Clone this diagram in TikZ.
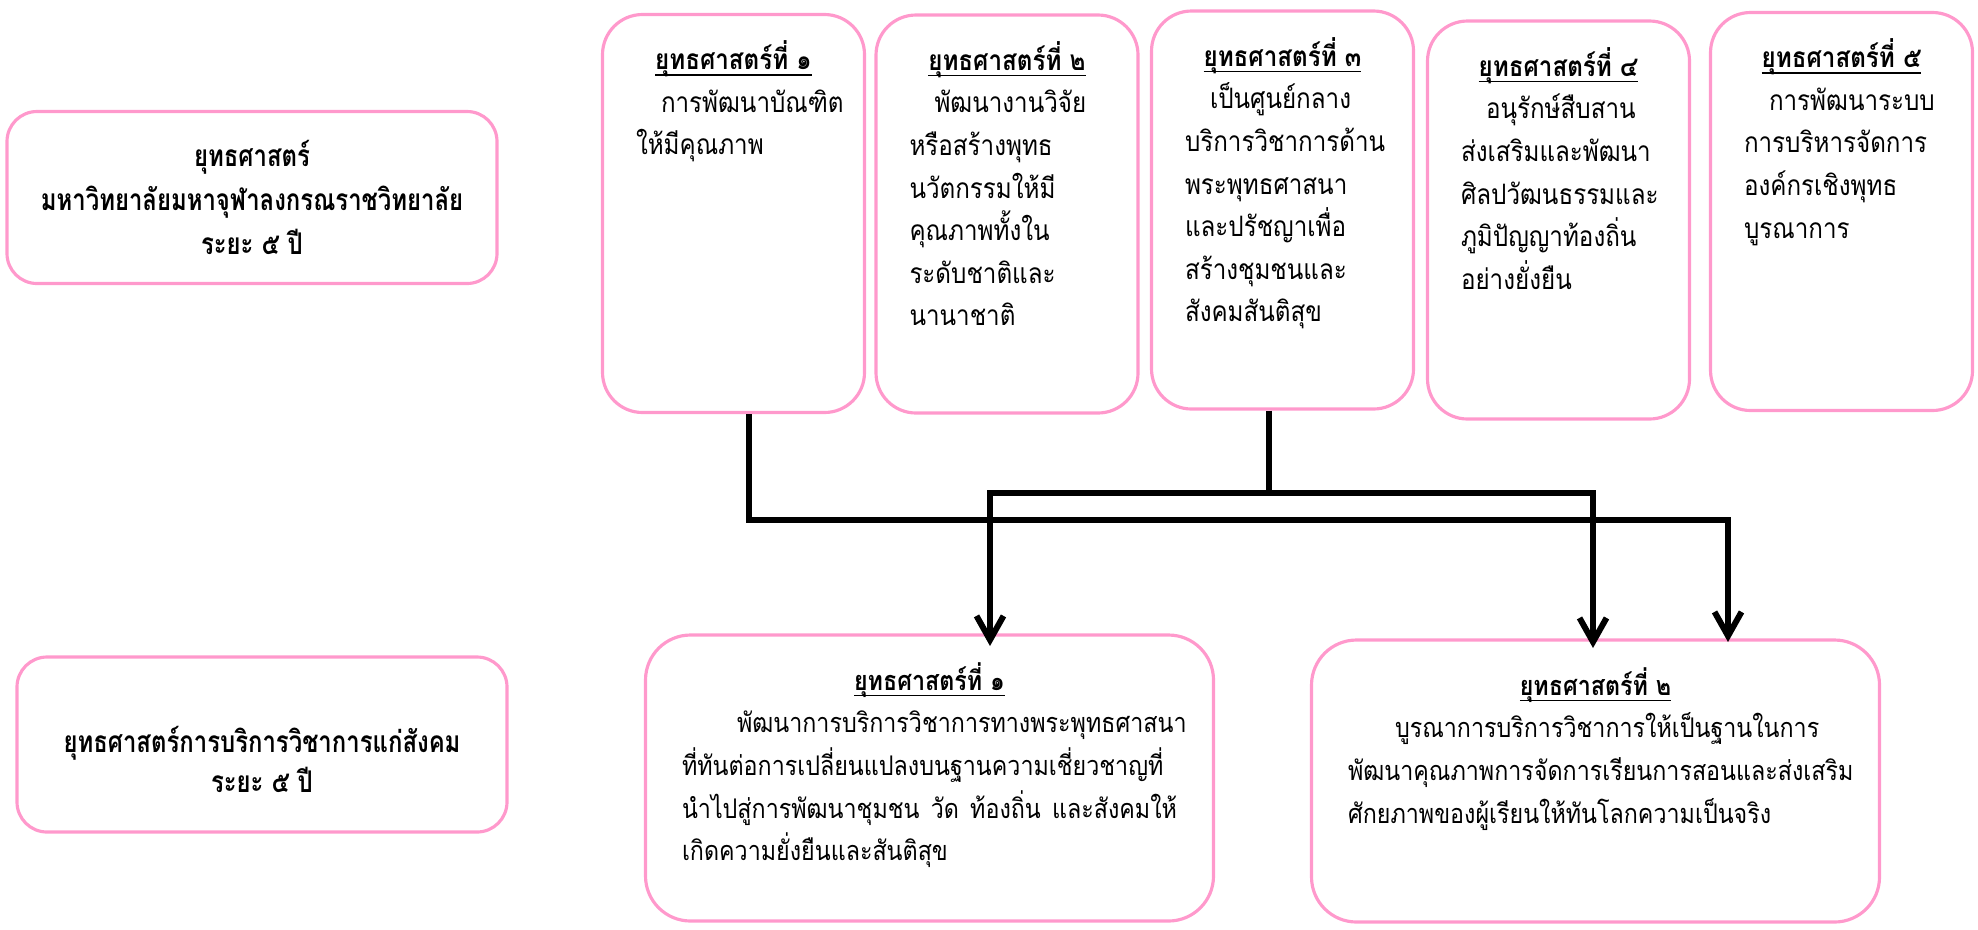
\documentclass[tikz,border=0pt]{standalone}
\usepackage{fontspec}
\setmainfont{Loma}[Script=Thai]
\newfontfamily\thaibody[Script=Thai,FakeStretch=0.86]{Loma}
\newfontfamily\thaihead[Script=Thai,FakeStretch=0.8]{Loma}
\usepackage{tikz}
\usetikzlibrary{arrows.meta}
\usetikzlibrary{positioning}
\definecolor{boxpink}{HTML}{FF99CC}
\tikzset{
    headbox/.style={draw=boxpink, line width=0.9pt, rounded corners=0.3cm,
        minimum width=4.9cm, minimum height=1.72cm, inner sep=0pt, align=center,
        font=\thaihead\bfseries\fontsize{8.5}{12.6}\selectfont},
    headtext/.style={inner sep=0pt, align=center,
        font=\thaihead\bfseries\fontsize{8.5}{11.3}\selectfont},
    stratbox/.style={draw=boxpink, line width=0.9pt, rounded corners=0.4cm,
        minimum width=2.62cm, minimum height=3.98cm, inner sep=0pt},
    goalbox/.style={draw=boxpink, line width=0.9pt, rounded corners=0.45cm,
        minimum width=5.68cm, minimum height=2.86cm, inner sep=0pt},
    boxtext/.style={anchor=base, inner sep=0pt, yshift=-0.57cm,
        font=\thaibody\fontsize{8}{12.1}\selectfont},
    trunk/.style={draw=black, line width=1.8pt},
    branch/.style={draw=black, line width=1.7pt,
        -{Straight Barb[length=2.4mm,width=2.7mm]}},
}
\newcommand{\stitle}[1]{{\bfseries\underline{\smash{#1}}}\par}
\begin{document}
\begin{tikzpicture}
\useasboundingbox (0,0) rectangle (19.78,-9.29);
% left heading boxes
\node[headbox] (plan) at (2.52,-1.975) {ยุทธศาสตร์\\มหาวิทยาลัยมหาจุฬาลงกรณราชวิทยาลัย\\ระยะ ๕ ปี};
\node[headbox, minimum height=1.75cm] (service) at (2.62,-7.445) {};
\node[headtext, yshift=-0.15cm] (servicetext) at (service) {ยุทธศาสตร์การบริการวิชาการแก่สังคม\\ระยะ ๕ ปี};
%
% university strategies
\node[stratbox] (s1) at (7.335,-2.135) {};
\node[stratbox] (s2) at (10.07,-2.14) {};
\node[stratbox] (s3) at (12.825,-2.10) {};
\node[stratbox] (s4) at (15.585,-2.20) {};
\node[stratbox] (s5) at (18.415,-2.115) {};
\node[boxtext] (t1) at (s1.north) {\parbox[t]{1.95cm}{\centering\stitle{ยุทธศาสตร์ที่ ๑}\raggedright
    \hspace*{0.25cm}การพัฒนาบัณฑิต\\ให้มีคุณภาพ}};
\node[boxtext] (t2) at (s2.north) {\parbox[t]{1.95cm}{\centering\stitle{ยุทธศาสตร์ที่ ๒}\raggedright
    \hspace*{0.25cm}พัฒนางานวิจัย\\หรือสร้างพุทธ\\นวัตกรรมให้มี\\คุณภาพทั้งใน\\ระดับชาติและ\\นานาชาติ}};
\node[boxtext] (t3) at (s3.north) {\parbox[t]{1.95cm}{\centering\stitle{ยุทธศาสตร์ที่ ๓}\raggedright
    \hspace*{0.25cm}เป็นศูนย์กลาง\\บริการวิชาการด้าน\\พระพุทธศาสนา\\และปรัชญาเพื่อ\\สร้างชุมชนและ\\สังคมสันติสุข}};
\node[boxtext] (t4) at (s4.north) {\parbox[t]{1.95cm}{\centering\stitle{ยุทธศาสตร์ที่ ๔}\raggedright
    \hspace*{0.25cm}อนุรักษ์สืบสาน\\ส่งเสริมและพัฒนา\\ศิลปวัฒนธรรมและ\\ภูมิปัญญาท้องถิ่น\\อย่างยั่งยืน}};
\node[boxtext] (t5) at (s5.north) {\parbox[t]{1.95cm}{\centering\stitle{ยุทธศาสตร์ที่ ๕}\raggedright
    \hspace*{0.25cm}การพัฒนาระบบ\\การบริหารจัดการ\\องค์กรเชิงพุทธ\\บูรณาการ}};
%
% academic service strategies
\node[goalbox] (g1) at (9.295,-7.78) {};
\node[goalbox, minimum height=2.82cm] (g2) at (15.955,-7.81) {};
\node[boxtext, font=\thaibody\fontsize{7.7}{12.1}\selectfont] (u1) at (g1.north) {\parbox[t]{4.95cm}{\centering\stitle{ยุทธศาสตร์ที่ ๑}\raggedright
    \hspace*{0.55cm}พัฒนาการบริการวิชาการทางพระพุทธศาสนา\\ที่ทันต่อการเปลี่ยนแปลงบนฐานความเชี่ยวชาญที่\\\makebox[\linewidth][s]{นำไปสู่การพัฒนาชุมชน วัด ท้องถิ่น และสังคมให้}\\เกิดความยั่งยืนและสันติสุข}};
\node[boxtext, font=\thaibody\fontsize{7.7}{12.1}\selectfont] (u2) at (g2.north) {\parbox[t]{4.95cm}{\centering\stitle{ยุทธศาสตร์ที่ ๒}\raggedright
    \hspace*{0.47cm}บูรณาการบริการวิชาการให้เป็นฐานในการ\\พัฒนาคุณภาพการจัดการเรียนการสอนและส่งเสริม\\ศักยภาพของผู้เรียนให้ทันโลกความเป็นจริง}};
%
% links
\coordinate (c1) at (7.49,-5.20);
\coordinate (c3) at (12.69,-4.93);
\coordinate (e1) at (9.90,-6.46);
\coordinate (e2) at (15.93,-6.48);
\coordinate (e3) at (17.28,-6.42);
\draw[branch] (s1.south -| c1) -- (c1) -| (e3);
\draw[trunk] (s3.south -| c3) -- (c3);
\draw[branch] (c3) -| (e1);
\draw[branch] (c3) -| (e2);
\end{tikzpicture}
\end{document}
